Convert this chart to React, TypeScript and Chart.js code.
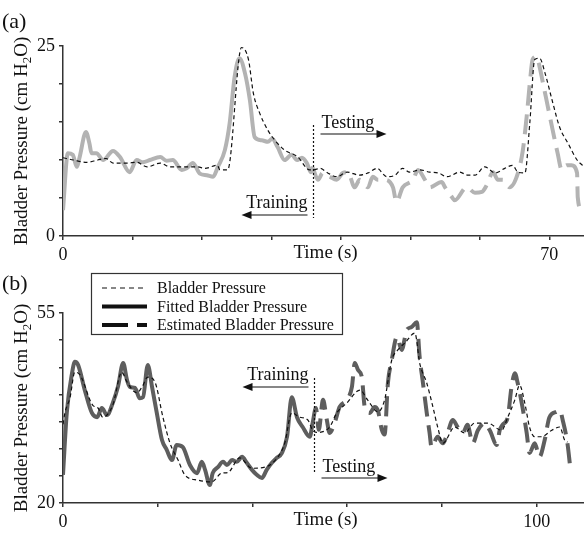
import React, { useEffect, useRef } from 'react';
import { Chart, registerables } from 'chart.js';
Chart.register(...registerables);

const FONT = '"Liberation Serif", "Times New Roman", serif';

// ---------- Panel (a) data ----------
const aMeasuredT = [0, 1.5, 3.4, 5, 6.2, 7.2, 9.2, 10.6, 12.1, 14, 15.4, 17.3, 19.4, 20.4, 22.2, 22.6, 23.7, 25.7, 26.7, 27.4, 28.3, 29.5, 30.5, 31.9, 33.8, 35.5, 36, 37, 38.1, 39.4, 40.9, 42.7, 43.9, 45.2, 46.6, 47.8, 48.9, 49.9, 51.4, 52.8, 54, 55.3, 57.1, 58.3, 59.3, 60.7, 62.2, 63.6, 64.7, 65.5, 66.5, 67.2, 67.9, 68.6, 69.4, 70.4, 71.5, 72.7, 74, 74.8];
const aMeasuredV = [10.3, 10.0, 9.7, 10.0, 10.2, 9.6, 9.6, 9.7, 9.1, 9.6, 9.1, 9.1, 9.1, 8.9, 9.3, 8.7, 8.7, 24.8, 23.2, 18.8, 16.2, 13.9, 12.6, 11.3, 10.4, 8.7, 8.7, 8.9, 8.3, 7.8, 8.4, 8.0, 8.3, 8.9, 7.8, 8.0, 8.9, 8.4, 8.7, 8.4, 8.3, 7.8, 8.4, 8.0, 8.0, 9.1, 8.3, 8.9, 9.3, 8.4, 8.3, 14.9, 23.2, 23.4, 21.4, 17.9, 14.3, 12.2, 10.0, 9.3];

const aFittedT = [0, 0.7, 1.4, 2.0, 2.4, 3.3, 3.8, 4.1, 4.8, 5.8, 7.2, 8.2, 9.6, 10.6, 11.5, 12.5, 14.0, 14.9, 15.8, 17.1, 17.8, 18.7, 19.7, 20.7, 21.6, 22.3, 23.3, 24.0, 24.7, 25.4, 26.2, 26.9, 27.6, 28.6, 29.5, 30.1, 30.9, 31.9, 32.9, 33.7, 34.4, 35.1, 35.7, 36.0];
const aFittedV = [3.4, 10.9, 10.7, 9.1, 10.4, 13.7, 12.2, 10.9, 10.9, 10.0, 11.2, 10.4, 8.4, 10.0, 9.7, 10.0, 10.4, 9.9, 10.0, 8.7, 8.9, 9.6, 8.2, 8.0, 7.8, 9.1, 11.3, 14.9, 20.9, 23.4, 21.4, 17.9, 13.0, 12.6, 12.4, 12.8, 11.7, 10.0, 10.7, 10.0, 10.3, 9.6, 8.4, 9.1];

const aEstimatedT = [36.0, 36.7, 37.4, 38.4, 39.4, 40.3, 41.0, 42.0, 42.7, 43.9, 44.6, 45.3, 46.3, 47.5, 48.0, 48.9, 50.4, 51.1, 52.1, 52.8, 54.5, 55.0, 56.0, 56.4, 58.1, 59.3, 60.3, 61.0, 61.9, 62.6, 63.3, 64.3, 65.5, 66.2, 66.8, 67.2, 67.6, 68.2, 68.6, 69.1, 69.8, 70.5, 71.2, 71.8, 72.5, 73.2, 74.0, 74.1, 74.7];
const aEstimatedV = [8.9, 7.4, 8.3, 7.8, 7.4, 8.3, 8.4, 6.4, 7.4, 6.4, 7.8, 7.4, 7.4, 6.4, 4.5, 6.4, 7.4, 8.7, 7.4, 6.4, 7.1, 6.4, 5.1, 4.7, 6.4, 5.7, 5.8, 6.7, 8.4, 7.4, 7.4, 6.4, 8.3, 11.3, 16.2, 20.1, 23.2, 23.6, 22.3, 20.1, 17.0, 13.9, 10.9, 8.7, 9.3, 9.3, 8.3, 5.1, 3.2];

// ---------- Panel (b) data ----------
const bMeasuredT = [0, 0.4, 1.5, 2.5, 3.6, 6.3, 7.4, 8.4, 10.5, 12.4, 13.5, 15.6, 16.7, 17.9, 19.4, 21.1, 22.6, 24.3, 25.7, 28.5, 31.4, 33.5, 34.8, 37.3, 39.9, 42.6, 45.4, 46.8, 48.3, 50.0, 51.7, 52.7, 53.5, 56.3, 57.8, 59.9, 62.7, 64.3, 66.5, 67.9, 69.4, 70.7, 72.2, 74.3, 75.3, 76.8, 78.1, 79.1, 80.2, 82.7, 84.8, 86.9, 89.7, 92.6, 93.9, 95.4, 96.4, 97.5, 98.5, 99.6, 101.0, 103.2, 104.9, 105.9, 106.5];
const bMeasuredV = [34.5, 36.6, 39.5, 44.1, 43.6, 38.0, 37.5, 35.8, 38.0, 44.1, 42.3, 40.3, 41.4, 43.2, 42.3, 35.8, 31.0, 27.9, 25.2, 24.2, 23.9, 25.5, 25.6, 28.3, 26.4, 26.6, 28.5, 31.0, 36.6, 35.8, 35.3, 33.4, 33.0, 34.0, 36.6, 38.4, 40.8, 39.0, 36.8, 39.0, 46.3, 48.2, 49.5, 51.3, 45.8, 42.1, 37.7, 34.0, 31.0, 34.0, 32.9, 34.7, 34.7, 33.4, 35.8, 39.0, 41.7, 38.4, 34.0, 32.2, 32.2, 33.4, 34.0, 31.6, 31.2];

const bFittedT = [0, 0.8, 1.9, 2.5, 3.2, 4.6, 6.1, 7.2, 8.2, 9.3, 10.5, 11.6, 12.7, 13.5, 14.1, 15.2, 16.2, 16.9, 17.9, 18.8, 19.8, 20.9, 21.9, 23.0, 24.0, 25.3, 26.8, 28.3, 29.3, 30.0, 31.0, 31.6, 32.7, 33.8, 34.6, 35.7, 36.7, 37.8, 38.8, 39.9, 40.9, 42.0, 43.0, 44.1, 45.1, 46.2, 47.3, 48.3, 49.4, 50.6, 52.1, 52.7];
const bFittedV = [25.2, 36.6, 43.9, 46.0, 45.4, 40.8, 36.6, 35.8, 37.5, 36.2, 38.4, 41.4, 45.8, 42.7, 41.4, 41.2, 39.3, 39.5, 45.4, 41.4, 36.6, 31.6, 29.8, 27.9, 30.7, 30.3, 27.0, 25.5, 27.6, 26.1, 23.3, 25.5, 26.6, 27.6, 27.0, 27.9, 27.6, 28.5, 27.4, 26.1, 25.2, 24.6, 26.1, 27.4, 28.3, 29.2, 32.2, 39.5, 35.8, 34.0, 32.2, 34.7];

const bEstimatedT = [52.7, 53.4, 54.0, 54.9, 55.7, 56.3, 57.4, 58.4, 59.9, 61.0, 61.6, 62.3, 63.1, 63.7, 64.8, 65.8, 66.5, 67.3, 67.9, 68.6, 69.4, 70.5, 71.5, 72.6, 73.6, 74.7, 75.3, 76.0, 76.8, 77.4, 77.8, 79.1, 80.2, 81.2, 82.3, 83.3, 84.4, 85.4, 86.5, 87.6, 89.0, 90.1, 91.6, 92.2, 92.8, 93.9, 94.7, 95.4, 96.0, 97.0, 97.9, 98.5, 99.6, 100.6, 101.7, 102.7, 104.2, 104.9, 105.5, 106.5, 107.2];
const bEstimatedV = [34.7, 37.5, 33.5, 39.0, 35.3, 32.9, 34.9, 37.7, 39.0, 41.4, 45.8, 44.5, 43.2, 37.7, 36.6, 37.7, 37.0, 33.5, 32.6, 42.1, 46.3, 50.6, 48.2, 51.9, 52.4, 53.3, 46.9, 42.1, 36.6, 32.9, 30.3, 32.2, 31.0, 32.9, 35.3, 34.0, 32.9, 34.4, 31.0, 33.4, 34.7, 33.4, 30.7, 33.4, 34.4, 35.8, 41.4, 43.9, 42.1, 37.7, 32.9, 29.2, 31.0, 28.5, 31.6, 35.8, 36.8, 37.1, 35.3, 31.0, 25.7];

const aYLabels = [0, 25];
const aXLabels = [0, 70];
const bYLabels = [20, 55];
const bXLabels = [0, 100];

const legendLabels = ['Bladder Pressure', 'Fitted Bladder Pressure', 'Estimated Bladder Pressure'];

const pts = (t: number[], v: number[]) => t.map((x, i) => ({ x, y: v[i] }));

function drawArrow(ctx: CanvasRenderingContext2D, tail: number, tip: number, y: number) {
  const dir = tip > tail ? 1 : -1;
  ctx.lineWidth = 1.2;
  ctx.beginPath();
  ctx.moveTo(tail, y);
  ctx.lineTo(tip - dir * 8, y);
  ctx.stroke();
  ctx.beginPath();
  ctx.moveTo(tip, y);
  ctx.lineTo(tip - dir * 10, y - 4);
  ctx.lineTo(tip - dir * 10, y + 4);
  ctx.closePath();
  ctx.fill();
}

const annotPlugin = {
  id: 'annot',
  afterDraw(chart: any, _args: any, o: any) {
    const ctx: CanvasRenderingContext2D = chart.ctx;
    const { left, right, top, bottom } = chart.chartArea;
    const xs = chart.scales.x;
    ctx.save();
    ctx.fillStyle = '#111';
    ctx.strokeStyle = '#111';
    // panel label
    ctx.font = `22px ${FONT}`;
    ctx.textAlign = 'left';
    ctx.textBaseline = 'middle';
    ctx.fillText(o.panel, 2, o.panelY);
    // x title
    ctx.font = `19px ${FONT}`;
    ctx.textAlign = 'center';
    ctx.fillText('Time (s)', (left + right) / 2 + 2, bottom + 17);
    // y title with subscript
    ctx.textAlign = 'left';
    ctx.textBaseline = 'alphabetic';
    const p1 = 'Bladder Pressure (cm H';
    const p2 = '2';
    const p3 = 'O)';
    ctx.font = `19px ${FONT}`;
    const w1 = ctx.measureText(p1).width;
    const w3 = ctx.measureText(p3).width;
    ctx.font = `13px ${FONT}`;
    const w2 = ctx.measureText(p2).width;
    const total = w1 + w2 + w3;
    ctx.save();
    ctx.translate(27, (top + bottom) / 2);
    ctx.rotate(-Math.PI / 2);
    let sx = -total / 2;
    ctx.font = `19px ${FONT}`;
    ctx.fillText(p1, sx, 0);
    sx += w1;
    ctx.font = `13px ${FONT}`;
    ctx.fillText(p2, sx, 4);
    sx += w2;
    ctx.font = `19px ${FONT}`;
    ctx.fillText(p3, sx, 0);
    ctx.restore();
    // split dotted line
    const lx = Math.round(xs.getPixelForValue(o.splitT)) + 0.5;
    ctx.lineWidth = 1.2;
    ctx.setLineDash([2, 2]);
    ctx.beginPath();
    ctx.moveTo(lx, o.splitTop);
    ctx.lineTo(lx, o.splitBottom);
    ctx.stroke();
    ctx.setLineDash([]);
    // annotations
    ctx.font = `18px ${FONT}`;
    ctx.textAlign = 'right';
    ctx.fillText('Training', lx - 6, o.trainY);
    drawArrow(ctx, lx - 6, lx - 72, o.trainY + 7);
    ctx.textAlign = 'left';
    ctx.fillText('Testing', lx + 8, o.testY);
    drawArrow(ctx, lx + 7, lx + 73, o.testY + 6);
    // legend
    if (o.legend) {
      const bx = 91.5, by = 5.5, bw = 251, bh = 61;
      ctx.fillStyle = '#fff';
      ctx.fillRect(bx, by, bw, bh);
      ctx.strokeStyle = '#333';
      ctx.lineWidth = 1.2;
      ctx.strokeRect(bx, by, bw, bh);
      ctx.fillStyle = '#111';
      ctx.strokeStyle = '#111';
      const rows = [20, 38.5, 57];
      const styles = [
        { w: 1.2, d: [5, 4] },
        { w: 4, d: [] },
        { w: 4, d: [26, 9] },
      ];
      ctx.font = `16px ${FONT}`;
      ctx.textBaseline = 'middle';
      ctx.textAlign = 'left';
      rows.forEach((ry, i) => {
        ctx.lineWidth = styles[i].w;
        ctx.setLineDash(styles[i].d);
        ctx.beginPath();
        ctx.moveTo(102, ry);
        ctx.lineTo(147, ry);
        ctx.stroke();
        ctx.setLineDash([]);
        ctx.fillText(legendLabels[i], 157, ry + 1);
      });
    }
    ctx.restore();
  },
};

function makeConfig(p: any) {
  const axisCommon = {
    grid: { display: true, drawOnChartArea: false, drawTicks: true, tickLength: 4, color: '#333', lineWidth: 1.5 },
    border: { display: true, color: '#333', width: 1.5 },
  };
  return {
    type: 'line',
    data: {
      datasets: [
        {
          data: pts(p.mT, p.mV),
          borderColor: '#111',
          borderWidth: 1.2,
          borderDash: [4, 3],
          pointRadius: 0,
          cubicInterpolationMode: 'monotone',
          order: 0,
        },
        {
          data: pts(p.fT, p.fV),
          borderColor: p.color,
          borderWidth: 4,
          pointRadius: 0,
          cubicInterpolationMode: 'monotone',
          borderJoinStyle: 'round',
          order: 1,
        },
        {
          data: pts(p.eT, p.eV),
          borderColor: p.color,
          borderWidth: 4,
          borderDash: [20, 9],
          pointRadius: 0,
          cubicInterpolationMode: 'monotone',
          borderJoinStyle: 'round',
          order: 2,
        },
      ],
    },
    options: {
      responsive: false,
      animation: false,
      layout: { padding: { top: p.padTop, left: 0, right: 0, bottom: 0 } },
      plugins: {
        legend: { display: false },
        tooltip: { enabled: false },
        annot: p.annot,
      },
      scales: {
        x: {
          type: 'linear',
          min: 0,
          max: p.xMax,
          ...axisCommon,
          ticks: {
            stepSize: p.xStep,
            includeBounds: false,
            autoSkip: false,
            maxRotation: 0,
            padding: 4,
            color: '#111',
            font: { family: FONT, size: 18 },
            callback: (v: number) => (p.xLabels.includes(v) ? String(v) : ''),
          },
          afterFit: (s: any) => {
            s.height = p.xAxisH;
          },
        },
        y: {
          type: 'linear',
          min: p.yMin,
          max: p.yMax,
          ...axisCommon,
          ticks: {
            stepSize: 5,
            autoSkip: false,
            padding: 4,
            color: '#111',
            font: { family: FONT, size: 18 },
            callback: (v: number) => (p.yLabels.includes(v) ? String(v) : ''),
          },
          afterFit: (s: any) => {
            s.width = 63;
          },
        },
      },
    },
    plugins: [annotPlugin],
  };
}

function Panel({ top, height, params }: { top: number; height: number; params: any }) {
  const ref = useRef<HTMLCanvasElement>(null);
  useEffect(() => {
    if (!ref.current) return;
    const chart = new Chart(ref.current, makeConfig(params) as any);
    return () => chart.destroy();
  }, []);
  return (
    <canvas
      ref={ref}
      width={584}
      height={height}
      style={{ position: 'absolute', left: 0, top, width: 584, height }}
    />
  );
}

const paramsA = {
  mT: aMeasuredT, mV: aMeasuredV,
  fT: aFittedT, fV: aFittedV,
  eT: aEstimatedT, eV: aEstimatedV,
  color: '#b3b3b3',
  xMax: 75, xStep: 10, xLabels: aXLabels,
  yMin: 0, yMax: 25, yLabels: aYLabels,
  padTop: 46, xAxisH: 32,
  annot: { panel: '(a)', panelY: 22, splitT: 36, splitTop: 125, splitBottom: 218, trainY: 208, testY: 128, legend: false },
};

const paramsB = {
  mT: bMeasuredT, mV: bMeasuredV,
  fT: bFittedT, fV: bFittedV,
  eT: bEstimatedT, eV: bEstimatedV,
  color: '#5e5e5e',
  xMax: 110, xStep: 20, xLabels: bXLabels,
  yMin: 20, yMax: 55, yLabels: bYLabels,
  padTop: 45, xAxisH: 30,
  annot: { panel: '(b)', panelY: 16, splitT: 53, splitTop: 110, splitBottom: 205, trainY: 112, testY: 204, legend: true },
};

export default function App() {
  return (
    <div style={{ position: 'absolute', left: 0, top: 0, width: 584, height: 533, background: '#fff' }}>
      <Panel top={0} height={268} params={paramsA} />
      <Panel top={268} height={265} params={paramsB} />
    </div>
  );
}
